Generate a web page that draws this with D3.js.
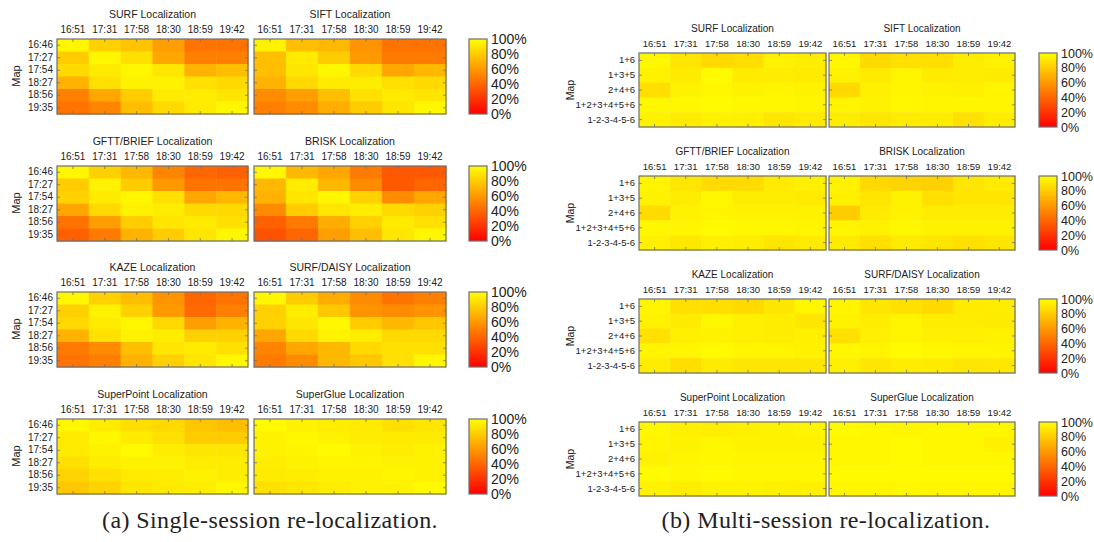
<!DOCTYPE html>
<html>
<head>
<meta charset="utf-8">
<script src="https://cdn.jsdelivr.net/npm/d3@7"></script>
<style>
  body { margin: 0; background: #fff; }
  svg { display: block; }
  text { font-family: "Liberation Sans", Arial, sans-serif; fill: #222; }
</style>
</head>
<body>
<div id="chart"></div>
<script>
// query sessions (columns) and map sessions (rows)
var queryTimes = ["16:51", "17:31", "17:58", "18:30", "18:59", "19:42"];
var singleMaps = ["16:46", "17:27", "17:54", "18:27", "18:56", "19:35"];
var multiMaps = ["1+6", "1+3+5", "2+4+6", "1+2+3+4+5+6", "1-2-3-4-5-6"];
var methods = ["SURF", "SIFT", "GFTT/BRIEF", "BRISK", "KAZE", "SURF/DAISY", "SuperPoint", "SuperGlue"];
var cbTicks = [0, 20, 40, 60, 80, 100];

// single-session success rate (%), rows = map, cols = query
var singleSURF = [
  [97, 82, 77, 62, 45, 45],
  [80, 97, 88, 65, 50, 50],
  [85, 92, 97, 90, 70, 75],
  [70, 88, 95, 95, 88, 85],
  [50, 65, 80, 92, 93, 90],
  [45, 52, 75, 85, 92, 97]];
var singleSIFT = [
  [95, 75, 72, 58, 45, 45],
  [75, 92, 80, 60, 48, 48],
  [75, 90, 97, 85, 65, 72],
  [70, 85, 92, 93, 88, 85],
  [55, 62, 75, 88, 92, 90],
  [50, 55, 68, 80, 90, 97]];
var singleGFTT = [
  [97, 82, 72, 52, 40, 38],
  [80, 95, 80, 60, 45, 45],
  [82, 92, 97, 88, 65, 72],
  [65, 85, 95, 93, 85, 85],
  [45, 62, 80, 90, 92, 88],
  [38, 48, 70, 80, 90, 97]];
var singleBRISK = [
  [97, 72, 65, 48, 35, 35],
  [72, 92, 72, 55, 35, 40],
  [70, 90, 97, 82, 55, 65],
  [55, 80, 90, 93, 85, 82],
  [38, 48, 68, 82, 92, 88],
  [32, 40, 62, 75, 90, 97]];
var singleKAZE = [
  [97, 82, 75, 58, 40, 45],
  [82, 95, 82, 60, 42, 50],
  [85, 92, 97, 85, 62, 70],
  [70, 88, 95, 93, 82, 82],
  [48, 55, 75, 90, 92, 88],
  [45, 50, 70, 82, 90, 97]];
var singleDAISY = [
  [97, 80, 68, 55, 45, 50],
  [82, 93, 78, 58, 55, 58],
  [82, 90, 97, 80, 72, 78],
  [65, 85, 95, 93, 85, 85],
  [52, 65, 72, 85, 88, 88],
  [48, 55, 72, 78, 88, 97]];
var singleSuperPoint = [
  [97, 93, 87, 85, 78, 75],
  [92, 97, 92, 88, 80, 80],
  [92, 95, 98, 93, 90, 90],
  [88, 93, 95, 95, 93, 93],
  [83, 88, 92, 93, 95, 93],
  [78, 83, 90, 92, 93, 97]];
var singleSuperGlue = [
  [98, 95, 93, 92, 88, 90],
  [95, 97, 95, 93, 92, 92],
  [95, 96, 98, 95, 93, 95],
  [93, 95, 96, 96, 95, 95],
  [92, 93, 95, 95, 96, 95],
  [88, 90, 93, 95, 95, 98]];

// multi-session success rate (%)
var multiSURF = [
  [97, 90, 85, 87, 95, 93],
  [95, 92, 98, 92, 93, 92],
  [87, 95, 97, 95, 96, 95],
  [97, 97, 98, 97, 97, 96],
  [95, 92, 95, 94, 90, 92]];
var multiSIFT = [
  [97, 85, 88, 87, 93, 95],
  [95, 92, 96, 92, 93, 92],
  [85, 94, 96, 95, 94, 96],
  [96, 95, 97, 96, 96, 96],
  [93, 90, 92, 93, 88, 93]];
var multiGFTT = [
  [96, 90, 86, 86, 92, 94],
  [95, 93, 97, 93, 93, 92],
  [86, 95, 96, 95, 95, 95],
  [97, 96, 98, 97, 97, 96],
  [94, 91, 94, 93, 90, 92]];
var multiBRISK = [
  [95, 85, 83, 82, 90, 92],
  [94, 90, 95, 88, 90, 90],
  [80, 92, 95, 93, 93, 93],
  [96, 95, 97, 95, 95, 95],
  [92, 88, 92, 90, 88, 90]];
var multiKAZE = [
  [96, 88, 87, 85, 90, 97],
  [95, 92, 97, 94, 93, 90],
  [88, 94, 95, 94, 93, 94],
  [96, 96, 98, 96, 96, 95],
  [93, 87, 92, 90, 90, 90]];
var multiDAISY = [
  [96, 90, 88, 85, 92, 93],
  [95, 93, 96, 93, 93, 92],
  [88, 94, 96, 94, 94, 95],
  [97, 96, 98, 97, 96, 96],
  [94, 90, 93, 92, 90, 91]];
var multiSuperPoint = [
  [97, 94, 93, 94, 95, 96],
  [96, 95, 97, 95, 95, 95],
  [95, 96, 97, 96, 96, 96],
  [98, 97, 98, 97, 97, 97],
  [95, 93, 95, 95, 94, 94]];
var multiSuperGlue = [
  [98, 97, 96, 97, 97, 97],
  [97, 97, 98, 97, 97, 94],
  [97, 97, 98, 97, 97, 97],
  [98, 98, 98, 98, 98, 98],
  [96, 96, 97, 96, 96, 96]];

var singleData = [singleSURF, singleSIFT, singleGFTT, singleBRISK, singleKAZE, singleDAISY, singleSuperPoint, singleSuperGlue];
var multiData = [multiSURF, multiSIFT, multiGFTT, multiBRISK, multiKAZE, multiDAISY, multiSuperPoint, multiSuperGlue];

var W = 1094, H = 542;
var svg = d3.select("#chart").append("svg").attr("width", W).attr("height", H);

// autumn colormap: red (0%) -> yellow (100%)
var color = d3.scaleLinear().domain([0, 100]).range(["#ff0000", "#ffff00"]).interpolate(d3.interpolateRgb);
var frameColor = "#6e6e6e";

var defs = svg.append("defs");
var grad = defs.append("linearGradient").attr("id", "cbgrad")
  .attr("x1", 0).attr("y1", 1).attr("x2", 0).attr("y2", 0);
cbTicks.forEach(function(t) {
  grad.append("stop").attr("offset", t / 100).attr("stop-color", color(t));
});

function heatmap(x0, y0, w, h, title, cols, rows, values, showY, fs) {
  var g = svg.append("g").attr("transform", "translate(" + x0 + "," + y0 + ")");
  var x = d3.scaleBand().domain(cols).range([0, w]);
  var y = d3.scaleBand().domain(rows).range([0, h]);

  var cells = [];
  rows.forEach(function(r, i) {
    cols.forEach(function(c, j) { cells.push({ r: r, c: c, v: values[i][j] }); });
  });
  g.selectAll("rect.cell").data(cells).enter().append("rect")
    .attr("class", "cell")
    .attr("x", function(d) { return x(d.c); })
    .attr("y", function(d) { return y(d.r); })
    .attr("width", x.bandwidth() + 0.5)
    .attr("height", y.bandwidth() + 0.5)
    .attr("fill", function(d) { return color(d.v); });

  // axes: labels on top/left, inward ticks all round
  var top = g.append("g").call(d3.axisTop(x).tickSize(-3).tickPadding(6));
  var bot = g.append("g").attr("transform", "translate(0," + h + ")")
    .call(d3.axisBottom(x).tickSize(-3).tickFormat(""));
  var left = g.append("g").call(d3.axisLeft(y).tickSize(-3).tickPadding(4).tickFormat(showY ? null : ""));
  var right = g.append("g").attr("transform", "translate(" + w + ",0)")
    .call(d3.axisRight(y).tickSize(-3).tickFormat(""));
  [top, bot, left, right].forEach(function(a) {
    a.select(".domain").remove();
    a.selectAll("line").attr("stroke", frameColor).attr("stroke-width", 0.8);
    a.selectAll("text").style("font-size", fs + "px").attr("fill", "#222")
      .style("font-family", "'Liberation Sans', Arial, sans-serif");
  });

  g.append("rect").attr("width", w).attr("height", h)
    .attr("fill", "none").attr("stroke", frameColor).attr("stroke-width", 1.2);

  g.append("text")
    .attr("x", w / 2).attr("y", -21)
    .attr("text-anchor", "middle")
    .style("font-size", (fs + 0.5) + "px")
    .text(title + " Localization");
}

function colorbar(x0, y0, w, h, fs) {
  var g = svg.append("g").attr("transform", "translate(" + x0 + "," + y0 + ")");
  g.append("rect").attr("width", w).attr("height", h)
    .attr("fill", "url(#cbgrad)").attr("stroke", frameColor).attr("stroke-width", 1.2);
  var s = d3.scaleLinear().domain([0, 100]).range([h, 0]);
  var ax = g.append("g").attr("transform", "translate(" + w + ",0)")
    .call(d3.axisRight(s).tickValues(cbTicks).tickSize(0).tickPadding(4)
      .tickFormat(function(d) { return d + "%"; }));
  ax.select(".domain").remove();
  ax.selectAll("text").style("font-size", fs + "px").attr("fill", "#222")
    .style("font-family", "'Liberation Sans', Arial, sans-serif");
}

function ylabel(x, y, fs) {
  svg.append("text")
    .attr("transform", "translate(" + x + "," + y + ") rotate(-90)")
    .attr("text-anchor", "middle")
    .attr("dy", "0.35em")
    .style("font-size", fs + "px")
    .text("Map");
}

// (a) single-session panel
var aTops = [39, 166, 292, 419];
aTops.forEach(function(t, k) {
  heatmap(57, t, 191, 75, methods[2 * k], queryTimes, singleMaps, singleData[2 * k], true, 10);
  heatmap(254, t, 192, 75, methods[2 * k + 1], queryTimes, singleMaps, singleData[2 * k + 1], false, 10);
  colorbar(469, t, 18, 75, 14);
  ylabel(16, t + 37, 11);
});

// (b) multi-session panel
var bTops = [53, 176, 299, 422];
bTops.forEach(function(t, k) {
  heatmap(639, t, 187, 74, methods[2 * k], queryTimes, multiMaps, multiData[2 * k], true, 9.5);
  heatmap(829, t, 186, 74, methods[2 * k + 1], queryTimes, multiMaps, multiData[2 * k + 1], false, 9.5);
  colorbar(1039, t, 18, 74, 12.5);
  ylabel(570, t + 37, 10.5);
});

// captions
svg.append("text").attr("x", 270).attr("y", 528).attr("text-anchor", "middle")
  .style("font-family", "'Liberation Serif', 'DejaVu Serif', serif").style("font-size", "24px")
  .style("letter-spacing", "0.4px")
  .text("(a) Single-session re-localization.");
svg.append("text").attr("x", 826).attr("y", 528).attr("text-anchor", "middle")
  .style("font-family", "'Liberation Serif', 'DejaVu Serif', serif").style("font-size", "24px")
  .style("letter-spacing", "0.4px")
  .text("(b) Multi-session re-localization.");
</script>
</body>
</html>
